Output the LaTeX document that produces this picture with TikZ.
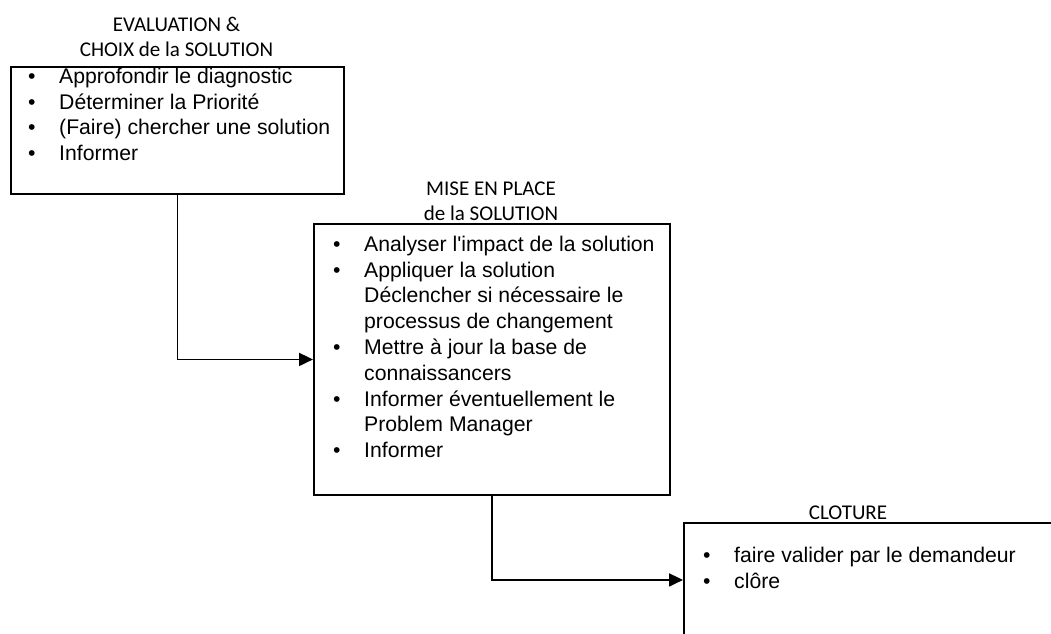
\documentclass[tikz,border=0pt]{standalone}
\usepackage{fontspec}
\newfontfamily\bodyfont[Ligatures=TeXOff]{Liberation Sans}
\newfontfamily\headfont{Carlito}
\usetikzlibrary{arrows.meta}
% bullet with fixed indent, and matching indent for continuation lines
\newcommand\itm{\makebox[31pt][l]{\textbullet}}
\newcommand\cnt{\hspace*{31pt}}
\newcommand\firstline{\rule{0pt}{20pt}}

\begin{document}
\begin{tikzpicture}[x=1pt,y=-1pt,
  frame/.style={draw,line width=1.9pt,inner sep=0pt,anchor=north west},
  items/.style={anchor=north west,inner sep=0pt,align=left,
    font=\bodyfont\fontsize{21.2}{25.8}\selectfont},
  heading/.style={align=center,inner sep=0pt,
    font=\headfont\fontsize{21}{25}\selectfont},
  conn/.style={line width=1.9pt,-{Triangle[length=14pt,width=13pt]}}]
\path[use as bounding box, clip] (0,0) rectangle (1051,633);

% process boxes
\node[frame,minimum width=333pt,minimum height=127pt] (box1) at (10,66) {};
\node[frame,minimum width=356pt,minimum height=271pt] (box2) at (313,223) {};
\node[frame,minimum width=420pt,minimum height=114pt] (box3) at (683,522) {};

% headings
\node[heading,anchor=north] (h1) at (176.5,13)
  {\rule{0pt}{18pt}EVALUATION \&\\CHOIX de la SOLUTION};
\node[heading,anchor=north] (h2) at (491,177)
  {\rule{0pt}{18pt}MISE EN PLACE\\de la SOLUTION};
\node[heading,anchor=base] (h3) at (848,519) {CLOTURE};

% box contents
\node[items] (t1) at (28,63) {\firstline\itm Approfondir le diagnostic\\
  \itm Déterminer la Priorité\\
  \itm (Faire) chercher une solution\\
  \itm Informer};
\node[items] (t2) at (333,231) {\firstline\itm Analyser l'impact de la solution\\
  \itm Appliquer la solution\\
  \cnt Déclencher si nécessaire le\\
  \cnt processus de changement\\
  \itm Mettre à jour la base de\\
  \cnt connaissancers\\
  \itm Informer éventuellement le\\
  \cnt Problem Manager\\
  \itm Informer};
\node[items] (t3) at (703,542) {\firstline\itm faire valider par le demandeur\\
  \itm clôre};

% connectors
\draw[conn] (box1.south) |- (box2.west);
\draw[conn] (box2.south) |- (box3.west);
\end{tikzpicture}
\end{document}
